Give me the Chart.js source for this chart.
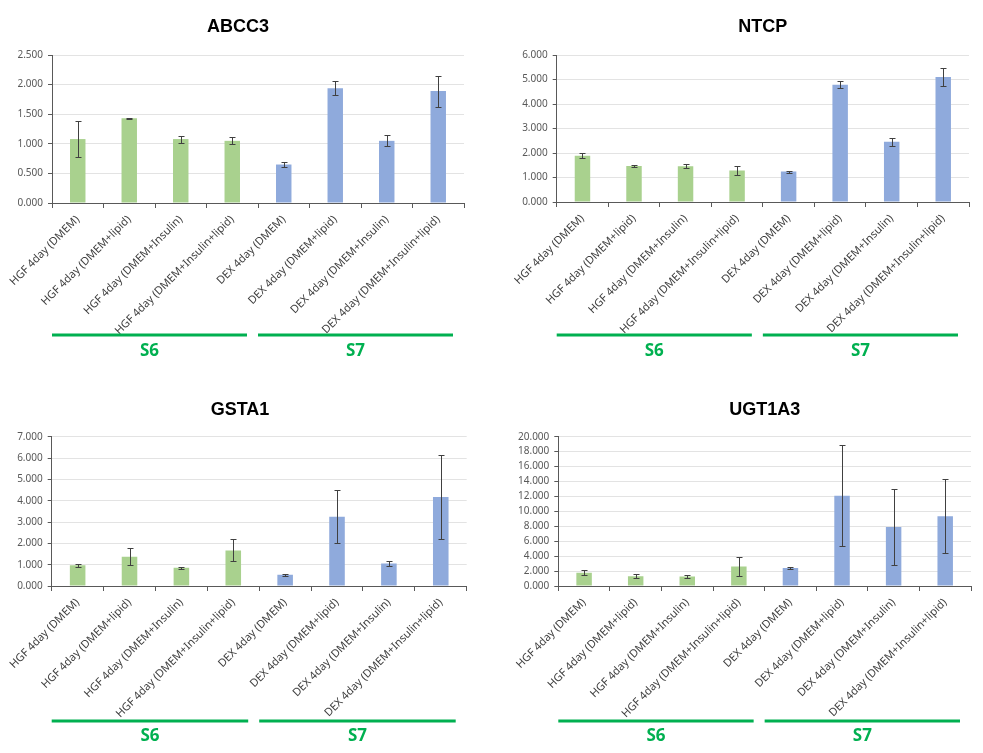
<!DOCTYPE html>
<html><head><meta charset="utf-8">
<script src="https://cdn.jsdelivr.net/npm/chart.js@4.4.1/dist/chart.umd.min.js"></script>
<style>
body{margin:0;background:#fff;width:983px;height:753px;position:relative;overflow:hidden}
canvas{position:absolute}
</style></head><body>
<canvas id="c1" width="491" height="383" style="left:0;top:0"></canvas>
<canvas id="c2" width="492" height="383" style="left:491px;top:0"></canvas>
<canvas id="c3" width="491" height="370" style="left:0;top:383px"></canvas>
<canvas id="c4" width="492" height="370" style="left:491px;top:383px"></canvas>
<script>
// ---- data ----
const categories = [
  'HGF 4day (DMEM)', 'HGF 4day (DMEM+lipid)', 'HGF 4day (DMEM+Insulin)', 'HGF 4day (DMEM+Insulin+lipid)',
  'DEX 4day (DMEM)', 'DEX 4day (DMEM+lipid)', 'DEX 4day (DMEM+Insulin)', 'DEX 4day (DMEM+Insulin+lipid)'
];
const groupNames = ['S6', 'S7'];
const groupStart = [0, 4];
const groupEnd = [3, 7];

const abcc3Values = [1.08, 1.43, 1.08, 1.05, 0.65, 1.94, 1.05, 1.89];
const abcc3Err    = [0.31, 0.01, 0.06, 0.06, 0.035, 0.12, 0.095, 0.26];
const ntcpValues  = [1.89, 1.47, 1.46, 1.29, 1.24, 4.79, 2.46, 5.10];
const ntcpErr     = [0.10, 0.045, 0.09, 0.17, 0.045, 0.14, 0.16, 0.37];
const gsta1Values = [0.97, 1.37, 0.86, 1.67, 0.53, 3.25, 1.05, 4.17];
const gsta1Err    = [0.07, 0.40, 0.05, 0.52, 0.055, 1.25, 0.105, 1.98];
const ugt1a3Values = [1.79, 1.29, 1.26, 2.62, 2.40, 12.10, 7.90, 9.35];
const ugt1a3Err    = [0.34, 0.27, 0.16, 1.25, 0.16, 6.77, 5.13, 4.92];

const yMaxes = [2.5, 6, 7, 20];
const ySteps = [0.5, 1, 1, 2];

// ---- style ----
const GREEN = '#a9d18e', BLUE = '#8faadc', GROUP_GREEN = '#00b050';
const barColors = categories.map(c => c.startsWith('HGF') ? GREEN : BLUE);

const errorBarPlugin = {
  id: 'errorBars',
  afterDatasetsDraw(chart) {
    const ds = chart.data.datasets[0];
    const meta = chart.getDatasetMeta(0);
    const y = chart.scales.y;
    const ctx = chart.ctx;
    ctx.save();
    ctx.strokeStyle = '#404040';
    ctx.lineWidth = 1;
    meta.data.forEach((bar, i) => {
      const x = Math.round(bar.x) + 0.5;
      const yt = Math.round(y.getPixelForValue(ds.data[i] + ds.errors[i])) + 0.5;
      const yb = Math.round(y.getPixelForValue(Math.max(0, ds.data[i] - ds.errors[i]))) + 0.5;
      ctx.beginPath();
      ctx.moveTo(x, yt); ctx.lineTo(x, yb);
      ctx.moveTo(x - 3, yt); ctx.lineTo(x + 3, yt);
      ctx.moveTo(x - 3, yb); ctx.lineTo(x + 3, yb);
      ctx.stroke();
    });
    ctx.restore();
  }
};

const groupPlugin = {
  id: 'groups',
  afterDraw(chart, args, opts) {
    const x = chart.scales.x;
    const half = (x.getPixelForValue(1) - x.getPixelForValue(0)) / 2;
    const ctx = chart.ctx;
    ctx.save();
    groupNames.forEach((name, g) => {
      const x0 = x.getPixelForValue(groupStart[g]) - half + opts.insetStart;
      const x1 = x.getPixelForValue(groupEnd[g]) + half - opts.insetEnd;
      ctx.strokeStyle = GROUP_GREEN;
      ctx.lineWidth = 3;
      ctx.beginPath();
      ctx.moveTo(x0, opts.lineY); ctx.lineTo(x1, opts.lineY);
      ctx.stroke();
      ctx.fillStyle = GROUP_GREEN;
      ctx.font = 'bold 17px "Noto Sans", sans-serif';
      ctx.textAlign = 'center';
      ctx.textBaseline = 'middle';
      ctx.fillText(name, (x0 + x1) / 2, opts.textY);
    });
    ctx.restore();
  }
};

function makeChart(id, title, values, errs, yMax, yStep, L) {
  return new Chart(document.getElementById(id), {
    type: 'bar',
    data: {
      labels: categories,
      datasets: [{
        data: values,
        errors: errs,
        backgroundColor: barColors,
        borderWidth: 0,
        barPercentage: 0.3,
        categoryPercentage: 1.0
      }]
    },
    options: {
      responsive: false,
      animation: false,
      devicePixelRatio: 1,
      layout: { padding: { left: L.padLeft, right: L.padRight, top: 0, bottom: 0 } },
      plugins: {
        legend: { display: false },
        tooltip: { enabled: false },
        title: {
          display: true,
          text: title,
          fullSize: L.fullTitle,
          color: '#000',
          font: { family: '"Liberation Sans", Arial, sans-serif', size: 18, weight: 'bold', lineHeight: 1.2 },
          padding: { top: L.titleTop, bottom: L.titleBottom }
        },
        groups: { lineY: L.lineY, textY: L.textY, insetStart: 0, insetEnd: 11 }
      },
      scales: {
        x: {
          grid: { display: true, drawOnChartArea: false, drawTicks: true, tickLength: 5, tickColor: '#595959', offset: true },
          border: { display: true, color: '#595959', width: 1 },
          ticks: {
            autoSkip: false, minRotation: 45, maxRotation: 45, padding: 5,
            color: '#404040',
            font: { family: '"Noto Sans", sans-serif', size: 11 }
          },
          afterFit(s) { s.height = L.xHeight; s.paddingLeft = 0; s.paddingRight = 0; }
        },
        y: {
          min: 0, max: yMax,
          grid: { color: '#e3e3e3', lineWidth: 1, drawTicks: true, tickLength: 4, tickColor: '#595959' },
          border: { display: true, color: '#595959', width: 1 },
          ticks: {
            stepSize: yStep, padding: 5, autoSkip: false,
            color: '#595959',
            font: { family: '"Noto Sans", sans-serif', size: 10 },
            callback: v => Number(v).toFixed(3)
          },
          afterFit(s) { s.width = L.yWidth; }
        }
      }
    },
    plugins: [errorBarPlugin, groupPlugin]
  });
}

makeChart('c1', 'ABCC3', abcc3Values, abcc3Err, yMaxes[0], ySteps[0],
  { padLeft: 12, padRight: 27, fullTitle: true, titleTop: 16, titleBottom: 17.4, xHeight: 180, yWidth: 40, lineY: 335, textY: 351 });
makeChart('c2', 'NTCP', ntcpValues, ntcpErr, yMaxes[1], ySteps[1],
  { padLeft: 0, padRight: 14, fullTitle: false, titleTop: 16, titleBottom: 17.4, xHeight: 181, yWidth: 65.7, lineY: 335, textY: 351 });
makeChart('c3', 'GSTA1', gsta1Values, gsta1Err, yMaxes[2], ySteps[2],
  { padLeft: 13.3, padRight: 24.3, fullTitle: true, titleTop: 16.2, titleBottom: 15.9, xHeight: 167, yWidth: 38.4, lineY: 338, textY: 353 });
makeChart('c4', 'UGT1A3', ugt1a3Values, ugt1a3Err, yMaxes[3], ySteps[3],
  { padLeft: 0, padRight: 12, fullTitle: false, titleTop: 16.2, titleBottom: 15.9, xHeight: 167, yWidth: 67.3, lineY: 338, textY: 353 });
</script>
</body></html>
